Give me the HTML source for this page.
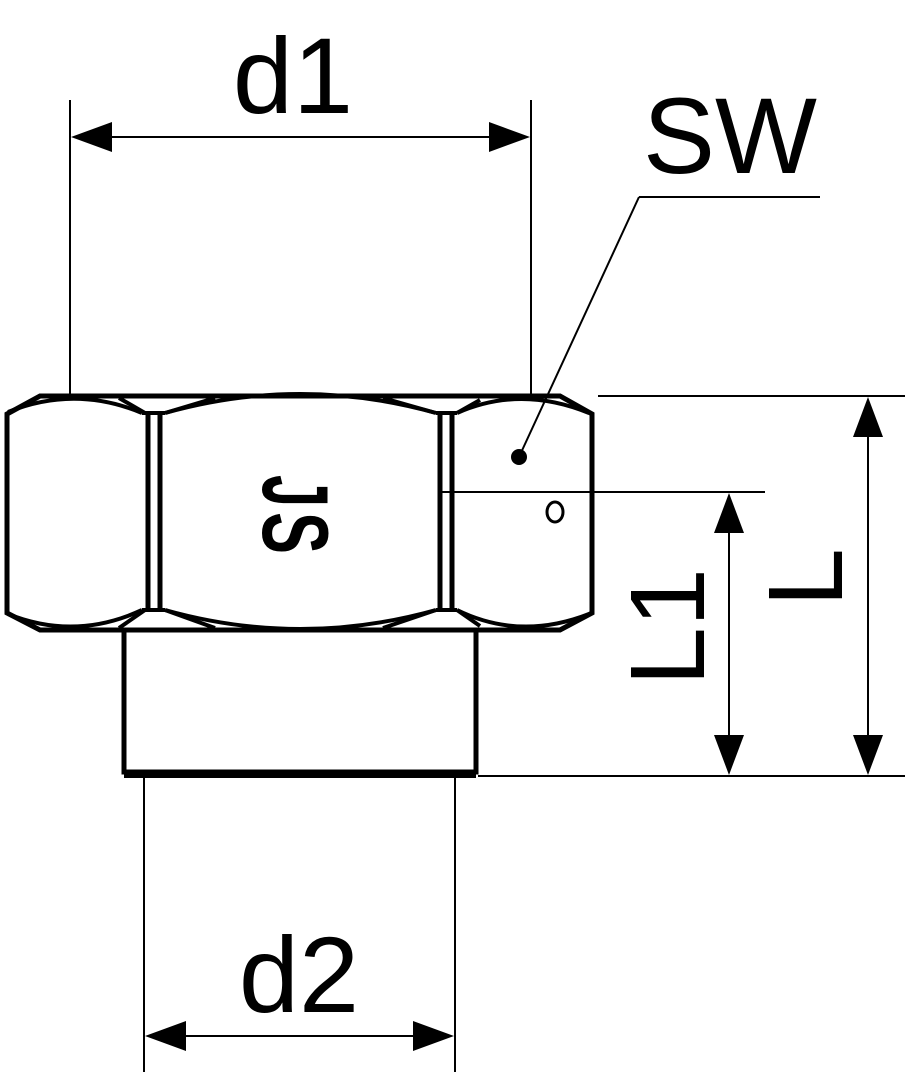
<!DOCTYPE html>
<html><head><meta charset="utf-8"><style>html,body{margin:0;padding:0;background:#fff}svg{display:block}</style></head>
<body>
<svg width="907" height="1080" viewBox="0 0 907 1080" xmlns="http://www.w3.org/2000/svg">
<g stroke="#000" fill="none" stroke-linejoin="miter">
<path d="M40,396 L560,396 L592,414 L592,613 L560,630 L40,630 L7,613 L7,414 Z" stroke-width="5"/>
<path d="M148,413 L148,610 M160,413 L160,610 M440,413 L440,610 M452,413 L452,610" stroke-width="5"/>
<path d="M142,413 L165,413 M142,610 L165,610 M436,413 L457,413 M436,610 L457,610" stroke-width="4"/>
<path d="M8,412 Q75,385 142,413 M8,614 Q75,641 142,610" stroke-width="4"/>
<path d="M119,398 L145,413 M119,628 L145,610" stroke-width="4"/>
<path d="M165,413 Q300,375 436,413 M165,610 Q300,648 436,610" stroke-width="4"/>
<path d="M383,398 L436,413 M383,628 L436,610 M165,413 L215,398 M165,610 L215,628" stroke-width="4"/>
<path d="M457,413 Q520,385 589,413 M457,610 Q520,641 589,614" stroke-width="4"/>
<path d="M457,413 L480,400 M457,610 L480,626" stroke-width="4"/>
<path d="M124,632 L124,772 L476,772 L476,632" stroke-width="5"/>
<path d="M124,774 L476,774" stroke-width="8"/>
<ellipse cx="555" cy="512" rx="8" ry="10" stroke-width="3"/>
<g stroke-width="2">
<path d="M70,100 L70,396 M531,100 L531,396 M90,137 L511,137"/>
<path d="M639,197 L820,197 M639,197 L519,457"/>
<path d="M598,396 L905,396 M440,492 L765,492 M478,776 L905,776"/>
<path d="M868,420 L868,752 M729,515 L729,752"/>
<path d="M144,778 L144,1072 M455,778 L455,1072 M164,1036 L435,1036"/>
</g>
</g>
<g fill="#000">
<circle cx="519" cy="457" r="8"/>
<path d="M71,137 L112,122 L112,152 Z M530,137 L489,122 L489,152 Z"/>
<path d="M145,1036 L186,1021 L186,1051 Z M454,1036 L413,1021 L413,1051 Z"/>
<path d="M868,397 L853,437 L883,437 Z M868,775 L853,735 L883,735 Z"/>
<path d="M729,493 L714,533 L744,533 Z M729,775 L714,735 L744,735 Z"/>
</g>
<g font-family="Liberation Sans, sans-serif" fill="#000">
<text x="293" y="113" font-size="108" text-anchor="middle">d1</text>
<text x="730" y="173" font-size="108" text-anchor="middle">SW</text>
<text x="299" y="1012" font-size="108" text-anchor="middle">d2</text>
<text transform="translate(842,607) rotate(-90)" font-size="106">L</text>
<text transform="translate(704,686) rotate(-90)" font-size="106">L1</text>
<text transform="translate(263,475) rotate(90)" font-size="94" font-weight="bold" textLength="32" lengthAdjust="spacingAndGlyphs">J</text>
<text transform="translate(263,512) rotate(90)" font-size="94" font-weight="bold" textLength="42" lengthAdjust="spacingAndGlyphs">S</text>
</g>
</svg>
</body></html>
